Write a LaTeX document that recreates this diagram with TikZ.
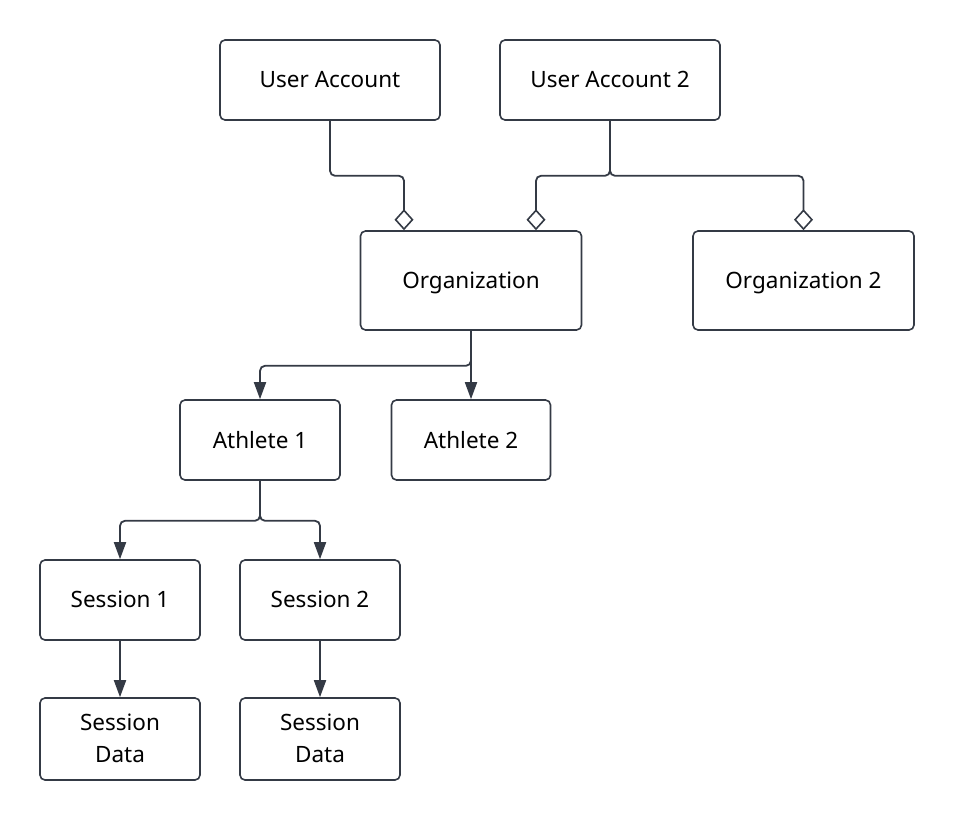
\documentclass[tikz,border=0pt]{standalone}
\usepackage{fontspec}
\setmainfont{Noto Sans}
\usetikzlibrary{arrows.meta}
\definecolor{lc}{HTML}{343A45}
\tikzset{
  box/.style={draw=lc, line width=1.6pt, rounded corners=5pt, fill=white, align=center,
    font=\fontsize{22.5}{32}\selectfont, inner sep=0pt, text depth=1pt},
  conn/.style={draw=lc, line width=1.8pt, rounded corners=5pt},
  agg/.style={conn, -{Diamond[open, length=21pt, width=19pt, line width=1.6pt]}},
  arr/.style={conn, -{Triangle[length=17pt, width=12pt]}}
}
\begin{document}
\begin{tikzpicture}[x=1pt, y=-1pt]
\useasboundingbox (0,0) rectangle (955,822);
\node[box, minimum width=220pt, minimum height=80pt] (ua) at (330,80) {User Account};
\node[box, minimum width=220pt, minimum height=80pt] (ua2) at (610,80) {User Account 2};
\node[box, minimum width=221pt, minimum height=99pt] (org) at (471,280.5) {Organization};
\node[box, minimum width=221pt, minimum height=99pt] (org2) at (803.5,280.5) {Organization 2};
\node[box, minimum width=160pt, minimum height=80pt] (ath1) at (260,440) {Athlete 1};
\node[box, minimum width=159pt, minimum height=80pt] (ath2) at (471,440) {Athlete 2};
\node[box, minimum width=160pt, minimum height=80pt] (s1) at (120,600) {Session 1};
\node[box, minimum width=160pt, minimum height=80pt] (s2) at (320,600) {Session 2};
\node[box, minimum width=160pt, minimum height=82pt] (sd1) at (120,739) {Session\\Data};
\node[box, minimum width=160pt, minimum height=82pt] (sd2) at (320,739) {Session\\Data};

\draw[agg] (ua.south) -- ++(0,55) -| ([xshift=-67pt]org.north);
\draw[agg] (ua2.south) -- ++(0,55) -| ([xshift=65pt]org.north);
\draw[agg] (ua2.south) -- ++(0,55) -| (org2.north);
\draw[arr] (org.south) -- ++(0,35) -| (ath1.north);
\draw[arr] (org.south) -- (ath2.north);
\draw[arr] (ath1.south) -- ++(0,40) -| (s1.north);
\draw[arr] (ath1.south) -- ++(0,40) -| (s2.north);
\draw[arr] (s1.south) -- (sd1.north);
\draw[arr] (s2.south) -- (sd2.north);
\end{tikzpicture}
\end{document}
